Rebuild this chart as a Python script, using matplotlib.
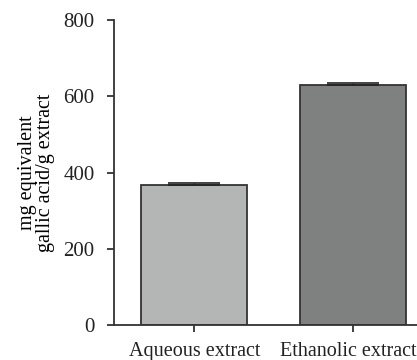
import numpy as np
import matplotlib.pyplot as plt
import matplotlib.transforms as mtransforms

plt.rcParams['font.family'] = ['Liberation Serif', 'DejaVu Serif']

categories = ['Aqueous extract', 'Ethanolic extract']
values = [368, 629]
errors = [5, 6]
colors = ['#b4b6b5', '#7f8180']

fig = plt.figure(figsize=(4.17, 3.6), dpi=100)
ax = fig.add_axes([0.273, 0.097, 0.75, 0.847])

x = np.arange(len(categories))
ax.bar(x, values, width=0.665, color=colors, edgecolor='#333333', linewidth=1.3, zorder=2)
ax.errorbar(x, values, yerr=[np.zeros(len(errors)), errors], fmt='none',
            ecolor='#222222', elinewidth=1.0, capsize=19, capthick=1.2, zorder=3)

ax.set_xlim(-0.505, 1.46)
ax.set_ylim(0, 800)
ax.set_yticks([0, 200, 400, 600, 800])
ax.set_xticks(x)
ax.set_xticklabels(categories)
ax.set_ylabel('mg equivalent\ngallic acid/g extract', fontsize=14.5, labelpad=6, linespacing=0.95)

for s in ['top', 'right']:
    ax.spines[s].set_visible(False)
for s in ['left', 'bottom']:
    ax.spines[s].set_color('#333333')
    ax.spines[s].set_linewidth(1.3)
ax.tick_params(axis='both', colors='#333333', labelcolor='#222222', labelsize=15,
               length=5, width=1.3)
ax.tick_params(axis='x', labelsize=14.5, pad=7)
ax.tick_params(axis='y', pad=9)

# nudge the right label a bit left so it stays inside the figure
lbl = ax.get_xticklabels()[1]
lbl.set_transform(lbl.get_transform() + mtransforms.ScaledTranslation(-5 / 100, 0, fig.dpi_scale_trans))

fig.savefig('out.png', dpi=100)
